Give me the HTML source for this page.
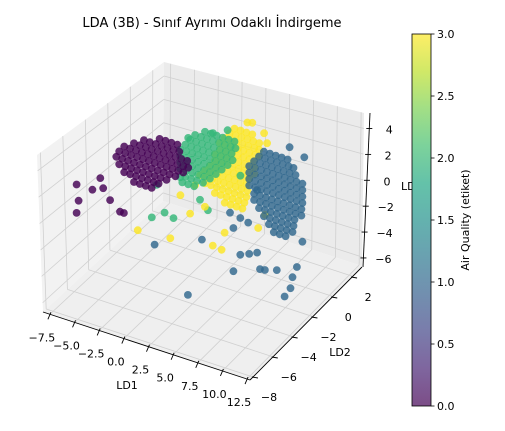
<!DOCTYPE html>
<html><head><meta charset="utf-8"><style>
html,body{margin:0;padding:0;background:#fff}
svg{display:block;font-family:"DejaVu Sans","Liberation Sans",sans-serif}
</style></head><body>
<svg id="chart" width="505" height="431" viewBox="0 0 505 431" xmlns="http://www.w3.org/2000/svg">
<defs>
<linearGradient id="viridis" x1="0" y1="1" x2="0" y2="0">
<stop offset="0" stop-color="#440154"/><stop offset="0.1" stop-color="#482475"/><stop offset="0.2" stop-color="#414487"/><stop offset="0.3" stop-color="#355f8d"/><stop offset="0.4" stop-color="#2a788e"/><stop offset="0.5" stop-color="#21918c"/><stop offset="0.6" stop-color="#22a884"/><stop offset="0.7" stop-color="#44bf70"/><stop offset="0.8" stop-color="#7ad151"/><stop offset="0.9" stop-color="#bddf26"/><stop offset="1" stop-color="#fde725"/>
</linearGradient>
</defs>
<text x="212" y="27" font-size="13" text-anchor="middle" fill="#000">LDA (3B) - Sınıf Ayrımı Odaklı İndirgeme</text>
<g id="panes"></g>
<g id="grid"></g>
<g id="axes"></g>
<g id="points"></g>
<text x="401" y="190" font-size="11" fill="#000">LD3</text>
<g id="colorbar">
<rect x="412" y="34" width="19" height="372" fill="#fff"/>
<rect x="412" y="34" width="19" height="372" fill="url(#viridis)" opacity="0.7"/>
<rect x="412" y="34" width="19" height="372" fill="none" stroke="#000" stroke-width="0.8"/>
</g>
<text transform="translate(469,220) rotate(-90)" font-size="11" text-anchor="middle" fill="#000">Air Quality (etiket)</text>
</svg>
<script>
// ---- axis ranges / ticks ----
const ld1Ticks = [-7.5,-5.0,-2.5,0.0,2.5,5.0,7.5,10.0,12.5];
const ld1TickLabels = ["−7.5","−5.0","−2.5","0.0","2.5","5.0","7.5","10.0","12.5"];
const ld2Ticks = [-8,-6,-4,-2,0,2];
const ld2TickLabels = ["−8","−6","−4","−2","0","2"];
const ld3Ticks = [-6,-4,-2,0,2,4];
const ld3TickLabels = ["−6","−4","−2","0","2","4"];
const cbTicks = [0.0,0.5,1.0,1.5,2.0,2.5,3.0];
const cbTickLabels = ["0.0","0.5","1.0","1.5","2.0","2.5","3.0"];
const classColors = ["#440154","#31688e","#35b779","#fde725"];

// ---- class 0 (purple) ----
const c0Ld2Core = -0.2;
const c0Ld3Rows = [1.5,1.0,0.5,0,-0.5,-1,-1.5,-2,-2.5];
const c0Ld1Rows = [
[-4.4,-3.8,-3.2,-2.6],
[-6.0,-5.4,-4.8,-4.2,-3.6,-3.0,-2.4],
[-7.0,-6.4,-5.8,-5.2,-4.6,-4.0,-3.4,-2.8,-2.2,-1.6],
[-8.0,-7.4,-6.8,-6.2,-5.6,-5.0,-4.4,-3.8,-3.2,-2.6,-2.0,-1.5],
[-8.5,-7.9,-7.3,-6.7,-6.1,-5.5,-4.9,-4.3,-3.7,-3.1,-2.5,-2.0],
[-8.8,-8.2,-7.6,-7.0,-6.4,-5.8,-5.2,-4.6,-4.0,-3.4,-2.8],
[-8.5,-7.9,-7.3,-6.7,-6.1,-5.5,-4.9,-4.3,-3.7],
[-8.0,-7.4,-6.8,-6.2,-5.6,-5.0,-4.5],
[-7.0,-6.4,-5.8,-5.2]];
const c0OutLd1 = [-8.0,-7.8,-8.0,-6.4,-5.3,-4.6,-3.6,-3.2,-5.6];
const c0OutLd2 = [-5,-5,-5,-5,-5,-5,-5,-5,-5];
const c0OutLd3 = [0.7,-0.5,-1.5,0.7,1.1,0.35,-0.3,-0.3,1.8];

// ---- class 2 (green) ----
const c2Ld2Core = 0.5;
const c2Ld3Rows = [2.5,2,1.5,1,0.5,0,-0.5,-1,-1.5,-2];
const c2Ld1Rows = [
[-0.5,0.1,0.7,1.3,1.9,2.5],
[-1.5,-0.9,-0.3,0.3,0.9,1.5,2.1,2.6],
[-2.0,-1.4,-0.8,-0.2,0.4,1.0,1.6,2.2],
[-2.5,-1.9,-1.3,-0.7,-0.1,0.5,1.1,1.7,2.3],
[-3.0,-2.4,-1.8,-1.2,-0.6,0,0.6,1.2,1.8],
[-3.0,-2.4,-1.8,-1.2,-0.6,0,0.6,1.2],
[-3.0,-2.4,-1.8,-1.2,-0.6,0,0.6],
[-3.0,-2.4,-1.8,-1.2,-0.6,0],
[-2.5,-1.9,-1.3,-0.7],
[-2.8,-2.2,-1.6]];
const c2OutLd1 = [-5.4,-5.9,-3.7,-4.6,-2.2,1.8,0.3,-3.0,-1.0,-0.2,3.1];
const c2OutLd2 = [0.5,0.5,0.5,0.5,0.5,0.5,0.5,0.5,0.5,0.5,0.5];
const c2OutLd3 = [-2.85,-5.5,-5.0,-4.8,1.6,3.2,2.6,-1.65,-2.9,-3.5,0];

// ---- class 3 (yellow) ----
const c3Ld2Core = 1;
const c3Ld3Rows = [3,2.5,2,1.5,1,0.5,0,-0.5,-1,-1.5,-2,-2.5,-3];
const c3Ld1Rows = [
[2.0,2.6,3.2,3.8],
[1.5,2.1,2.7,3.3,3.9,4.5],
[1.0,1.6,2.2,2.8,3.4,4.0,4.5],
[0.5,1.1,1.7,2.3,2.9,3.5,4.1,4.5],
[0.5,1.1,1.7,2.3,2.9,3.5,4.0],
[0,0.6,1.2,1.8,2.4,3.0,3.6,4.0],
[0,0.6,1.2,1.8,2.4,3.0,3.6,4.0],
[-0.5,0.1,0.7,1.3,1.9,2.5,3.1,3.5],
[-1.0,-0.4,0.2,0.8,1.4,2.0,2.6,3.2],
[-1.5,-0.9,-0.3,0.3,0.9,1.5,2.1,2.7,3.3],
[-1.0,-0.4,0.2,0.8,1.4,2.0,2.6,3.2],
[0,0.6,1.2,1.8,2.4,3.0],
[1.0,1.6,2.2,2.8]];
const c3OutLd1 = [-3.8,-0.5,1.8,2.7,3.0,-0.5,1.0,3.3,3.8,5.0,5.3,-3.5,-2.0,5.1,4.4];
const c3OutLd2 = [-3,-3,-1,-1,-1,-1,-1,1,1,1,1,1,1,1,1];
const c3OutLd3 = [-3.3,-3.1,-4.6,-4.7,-3.3,-2.7,-1.8,3.8,3.9,3.4,2.7,-3.55,-2.4,-2.9,-4.1];

// ---- class 1 (blue) ----
const c1Ld2Core = -2;
const c1Ld3Rows = [5,4.5,4,3.5,3,2.5,2,1.5,1,0.5,0,-0.5,-1];
const c1Ld1Rows = [
[8.0,8.6,9.2,9.8,10.4],
[7.5,8.1,8.7,9.3,9.9,10.5,11.0],
[7.0,7.6,8.2,8.8,9.4,10.0,10.6,11.2],
[6.5,7.1,7.7,8.3,8.9,9.5,10.1,10.7,11.3,11.9],
[6.5,7.1,7.7,8.3,8.9,9.5,10.1,10.7,11.3,11.9],
[6.5,7.1,7.7,8.3,8.9,9.5,10.1,10.7,11.3,11.9],
[6.5,7.1,7.7,8.3,8.9,9.5,10.1,10.7,11.3,11.9],
[7.0,7.6,8.2,8.8,9.4,10.0,10.6,11.2,11.8],
[7.0,7.6,8.2,8.8,9.4,10.0,10.6,11.2,11.8],
[7.5,8.1,8.7,9.3,9.9,10.5,11.1],
[8.0,8.6,9.2,9.8,10.4,11.0],
[8.5,9.1,9.7,10.3,10.9],
[9.0,9.6,10.2]];
const c1OutLd1 = [4.55,5.6,4.9,6.4,1.7,-3.1,4.3,4.9,5.6,6.5,7.3,7.6,8.1,9.3,10.1,10.7,10.9,11.35,11.9,12.1,10.6,7.3];
const c1OutLd2 = [-2,-2,-2,-2,-2,-2,-6,-2,-2,-2,-2,-2,-2,-2,-2,-2,-2,-2,-2,-2,-2,-2];
const c1OutLd3 = [-0.6,-0.75,-1.7,-0.9,-3.4,-5.0,-4.0,-5.05,-3.6,-3.3,-3.0,-4.2,-4.15,-3.85,-5.7,-4.9,-4.0,-3.1,-1.0,5.6,6.0,1.85];

// ---- axis geometry ----
const X0=-8.2, X1=12.8, Y0=-8.3, Y1=3.0, Z0=-6.7, Z1=5.2;
const NS="http://www.w3.org/2000/svg";
const corner = {
 "000":[43,312],"100":[250,380],"110":[362,266],"010":[163,201],
 "001":[37,155],"101":[249,224],"111":[364,113],"011":[164,62]};
function tri(xn,yn,zn){
  let sx=0,sy=0;
  for(const a of [0,1])for(const b of [0,1])for(const c of [0,1]){
    const w=(a?xn:1-xn)*(b?yn:1-yn)*(c?zn:1-zn);
    const p=corner[""+a+b+c]; sx+=w*p[0]; sy+=w*p[1];
  }
  return [sx,sy];
}
function nx(v){return (v-X0)/(X1-X0);}
function ny(v){return (v-Y0)/(Y1-Y0);}
function nz(v){return (v-Z0)/(Z1-Z0);}
function proj(x,y,z){
  const u=x+8.2, v=y+8.2, w=z+6.8;
  return [43+9.85*u+9.9*v, 312+3.25*u-9.8*v-12.9*w];
}
function mk(tag,attrs,parent){const e=document.createElementNS(NS,tag);for(const k in attrs)e.setAttribute(k,attrs[k]);parent.appendChild(e);return e;}
function poly(pts){return pts.map(p=>p[0].toFixed(1)+","+p[1].toFixed(1)).join(" ");}

const panes=document.getElementById("panes");
let pl=mk("polygon",{points:poly([tri(0,0,0),tri(0,1,0),tri(0,1,1),tri(0,0,1)]),fill:"#f2f2f2"},panes);


pl=mk("polygon",{points:poly([tri(0,1,0),tri(1,1,0),tri(1,1,1),tri(0,1,1)]),fill:"#ebebeb"},panes);


pl=mk("polygon",{points:poly([tri(0,0,0),tri(1,0,0),tri(1,1,0),tri(0,1,0)]),fill:"#efefef"},panes);



const grid=document.getElementById("grid");
function gl(a,b,name){const p=tri(...a),q=tri(...b);const l=mk("line",{x1:p[0],y1:p[1],x2:q[0],y2:q[1],stroke:"#d0d0d0","stroke-width":0.8},grid);

}
ld1Ticks.forEach(t=>{const a=nx(t);gl([a,1,0],[a,1,1],"grid-back-ld1");gl([a,0,0],[a,1,0],"grid-floor-ld1");});
ld2Ticks.forEach(t=>{const b=ny(t);gl([0,b,0],[0,b,1],"grid-left-ld2");gl([0,b,0],[1,b,0],"grid-floor-ld2");});
ld3Ticks.forEach(t=>{const c=nz(t);gl([0,0,c],[0,1,c],"grid-left-ld3");gl([0,1,c],[1,1,c],"grid-back-ld3");});

const axes=document.getElementById("axes");
function line(p,q,name,w){const l=mk("line",{x1:p[0],y1:p[1],x2:q[0],y2:q[1],stroke:"#000","stroke-width":w||0.9},axes);

}
function txt(x,y,s,name,anchor){const t=mk("text",{x:x,y:y,"font-size":11,"text-anchor":anchor||"middle",fill:"#000"},axes);t.textContent=s;

}
const a1=(v)=>{const f=(v-X0)/(X1-X0);return [43+f*207,312+f*68];};
line(a1(X0),a1(X1),"ld1-axis-line");
ld1Ticks.forEach((t,i)=>{const p=a1(t);line([p[0]+1,p[1]-2],[p[0]-2,p[1]+5],"ld1-tick");txt(p[0]-8,p[1]+27,ld1TickLabels[i],"ld1-tick-label");});
txt(127,389,"LD1","ld1-axis-title");
const a2=(v)=>{const f=(v-Y0)/(Y1-Y0);return [250+f*112,380-f*113];};
line(a2(Y0),a2(Y1),"ld2-axis-line");
ld2Ticks.forEach((t,i)=>{const p=a2(t);line([p[0]-1,p[1]],[p[0]+5,p[1]+1],"ld2-tick");txt(p[0]+16,p[1]+24,ld2TickLabels[i],"ld2-tick-label");});
txt(340,356,"LD2","ld2-axis-title");
const a3=(v)=>{const f=(v-Z0)/(Z1-Z0);return [363+f*7,267-f*154];};
line(a3(Z0),a3(Z1),"ld3-axis-line");
ld3Ticks.forEach((t,i)=>{const p=a3(t);line([p[0]-3,p[1]],[p[0]+3,p[1]],"ld3-tick");txt(p[0]+20,p[1]+5,ld3TickLabels[i],"ld3-tick-label");});

// ---- points ----
const pts=[];
function addRows(cls,ld2,ld3Rows,ld1Rows){ld3Rows.forEach((z,r)=>ld1Rows[r].forEach(x=>pts.push([x,ld2,z,cls])));}
function addOut(cls,xs,ys,zs){xs.forEach((x,i)=>pts.push([x,ys[i],zs[i],cls]));}
addRows(0,c0Ld2Core,c0Ld3Rows,c0Ld1Rows); addOut(0,c0OutLd1,c0OutLd2,c0OutLd3);
addRows(2,c2Ld2Core,c2Ld3Rows,c2Ld1Rows); addOut(2,c2OutLd1,c2OutLd2,c2OutLd3);
addRows(3,c3Ld2Core,c3Ld3Rows,c3Ld1Rows); addOut(3,c3OutLd1,c3OutLd2,c3OutLd3);
addRows(1,c1Ld2Core,c1Ld3Rows,c1Ld1Rows); addOut(1,c1OutLd1,c1OutLd2,c1OutLd3);
const depth=p=>0.5*nx(p[0])-0.866*ny(p[1])+0.25*nz(p[2]);
pts.sort((a,b)=>depth(a)-depth(b));
const pg=document.getElementById("points");
pts.forEach(p=>{const s=proj(p[0],p[1],p[2]);
 const c=mk("circle",{cx:s[0].toFixed(1),cy:s[1].toFixed(1),r:3.9,fill:classColors[p[3]],"fill-opacity":0.82},pg);
 
 
});

// ---- colorbar ticks ----
const cb=document.getElementById("colorbar");
const cbY=v=>406-(v/3)*372;
cbTicks.forEach((t,i)=>{const y=cbY(t);
 const l=mk("line",{x1:431,y1:y,x2:434.5,y2:y,stroke:"#000","stroke-width":0.8},cb);
 
 
 const tx=mk("text",{x:437,y:y+4,"font-size":11,fill:"#000"},cb);tx.textContent=cbTickLabels[i];
 
 
});
</script>
</body></html>
